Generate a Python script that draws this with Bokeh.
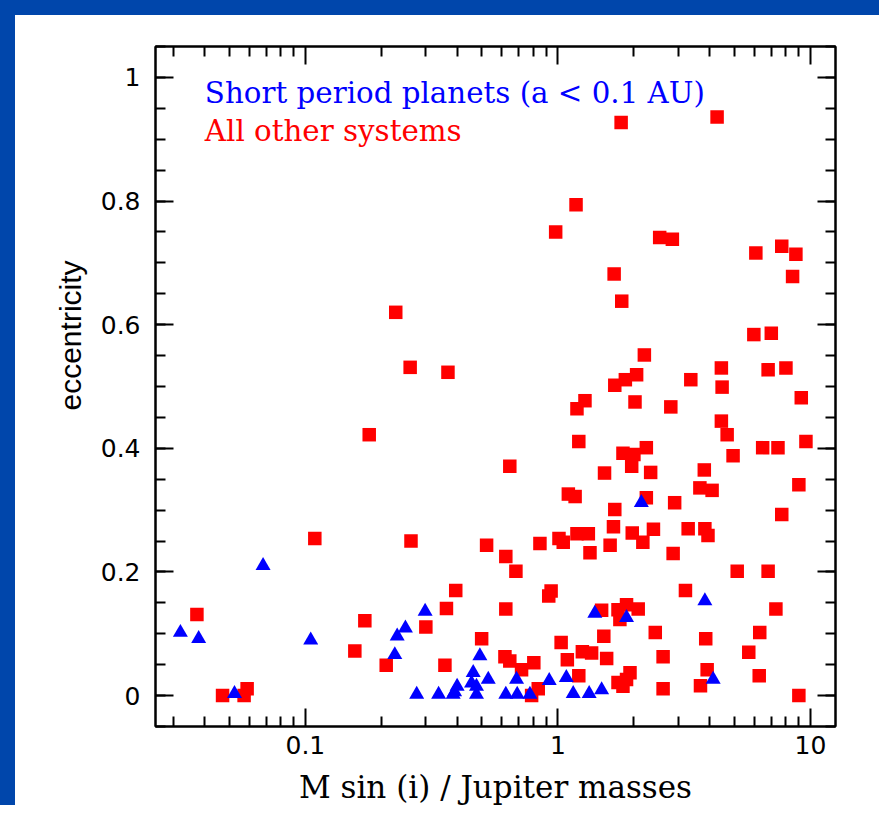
from bokeh.plotting import figure
from bokeh.models import Range1d, FixedTicker, LogAxis, LinearAxis, Label, Title
from bokeh.embed import file_html
from bokeh.resources import INLINE

# ---- data ----
red_x = [0.047, 0.0572, 0.0588, 0.0372, 0.109, 0.157, 0.172, 0.209, 0.262, 0.30,
         0.362, 0.357, 0.394, 0.228, 0.26, 0.367, 0.179,
         0.522, 0.622, 0.682, 0.622, 0.499, 0.617, 0.645, 0.718, 0.803, 0.849,
         1.01, 1.05, 1.34, 1.61, 2.17, 2.86, 5.13, 6.8, 3.2, 7.3, 6.3, 5.7, 6.27,
         9.0, 3.85, 3.9, 3.67, 2.61, 2.61, 2.43, 2.08, 1.87, 1.73, 1.76, 1.93,
         1.87, 1.73, 1.81, 1.49, 1.52, 1.56, 1.36, 1.25, 1.09, 1.03, 1.21, 0.94,
         0.92, 0.836, 0.787,
         0.645, 1.19, 1.32, 1.66, 1.68, 1.97, 2.39, 2.24, 2.9, 3.28, 3.82, 3.93,
         3.65, 4.08, 3.8, 4.94, 4.68, 4.44, 6.47, 7.44, 9.6, 9.0, 7.7, 2.33, 2.24,
         2.0, 1.81, 1.96, 1.53, 1.21, 1.19, 1.28, 1.68, 1.85, 2.05, 2.2, 2.02,
         2.80, 3.36, 4.44, 4.47, 6.8, 8.0, 9.2, 5.97, 7.0, 1.10, 1.17,
         1.78, 4.27, 1.18, 0.98, 2.53, 2.84, 6.08, 7.7, 8.76, 8.5, 1.67, 1.79]
red_y = [0.0, 0.0, 0.011, 0.131, 0.254, 0.072, 0.121, 0.049, 0.25, 0.111,
         0.141, 0.049, 0.170, 0.620, 0.531, 0.523, 0.422,
         0.243, 0.225, 0.201, 0.140, 0.092, 0.063, 0.056, 0.042, 0.053, 0.246,
         0.254, 0.248, 0.231, 0.243, 0.248, 0.230, 0.201, 0.201, 0.170, 0.140,
         0.102, 0.070, 0.032, 0.0, 0.092, 0.042, 0.016, 0.063, 0.011, 0.102,
         0.140, 0.147, 0.139, 0.123, 0.037, 0.026, 0.021, 0.015, 0.138, 0.096,
         0.060, 0.069, 0.071, 0.058, 0.086, 0.032, 0.169, 0.161, 0.011, 0.0,
         0.371, 0.262, 0.262, 0.273, 0.301, 0.263, 0.269, 0.320, 0.312, 0.270,
         0.270, 0.259, 0.336, 0.332, 0.365, 0.388, 0.422, 0.444, 0.401, 0.401,
         0.411, 0.341, 0.293, 0.361, 0.401, 0.390, 0.392, 0.371, 0.360, 0.411,
         0.464, 0.477, 0.502, 0.511, 0.519, 0.551, 0.475, 0.467, 0.511, 0.530,
         0.499, 0.527, 0.530, 0.482, 0.584, 0.586, 0.326, 0.322,
         0.927, 0.936, 0.794, 0.750, 0.741, 0.738, 0.716, 0.727, 0.714, 0.678,
         0.682, 0.638]

blue_x = [0.032, 0.0378, 0.0524, 0.068, 0.105, 0.226, 0.231, 0.249, 0.298, 0.276,
          0.337, 0.385, 0.399, 0.39, 0.462, 0.455, 0.476, 0.476, 0.491, 0.53,
          0.622, 0.69, 0.686, 0.775, 0.924, 1.08, 1.15, 1.33, 1.49, 1.40, 1.87,
          3.82, 4.12, 2.14]
blue_y = [0.102, 0.092, 0.003, 0.21, 0.0895, 0.066, 0.096, 0.109, 0.136, 0.002,
          0.002, 0.002, 0.015, 0.006, 0.037, 0.02, 0.002, 0.015, 0.064, 0.026,
          0.002, 0.002, 0.026, 0.002, 0.024, 0.029, 0.003, 0.003, 0.009, 0.133,
          0.126, 0.153, 0.026, 0.312]

x_major = [0.1, 1, 10]
x_major_labels = ["0.1", "1", "10"]
x_minor = [k * 10.0 ** d for d in (-2, -1, 0, 1) for k in range(2, 10)]
y_major = [0, 0.2, 0.4, 0.6, 0.8, 1.0]
y_major_labels = ["0", "0.2", "0.4", "0.6", "0.8", "1"]
y_minor = [i * 0.05 for i in range(-1, 22)]

x_title = "M sin (i) / Jupiter masses"
y_title = "eccentricity"
legend_short = "Short period planets (a < 0.1 AU)"
legend_other = "All other systems"

BLUE_FRAME = "#0046AB"

p = figure(width=879, height=805, x_axis_type="log",
           x_range=Range1d(0.0255, 12.57), y_range=Range1d(-0.05, 1.05),
           output_backend="svg", toolbar_location=None,
           min_border_left=140, min_border_right=59,
           min_border_top=31, min_border_bottom=94)
p.styles = {"border-top": f"15px solid {BLUE_FRAME}",
            "border-left": f"15px solid {BLUE_FRAME}"}
p.background_fill_color = "white"
p.border_fill_color = "white"
p.outline_line_color = "black"
p.outline_line_width = 2
p.grid.visible = False

xt = FixedTicker(ticks=x_major, minor_ticks=x_minor)
yt = FixedTicker(ticks=y_major, minor_ticks=y_minor)

p.add_layout(LogAxis(), "above")
p.add_layout(LinearAxis(), "right")


def style(ax, ticker, show):
    ax.ticker = ticker
    ax.major_tick_in = 18
    ax.major_tick_out = 0
    ax.minor_tick_in = 10
    ax.minor_tick_out = 0
    ax.axis_line_width = 2
    ax.axis_line_color = "black"
    ax.major_tick_line_width = 2
    ax.minor_tick_line_width = 2
    ax.major_tick_line_color = "black"
    ax.minor_tick_line_color = "black"
    ax.major_label_text_font = "DejaVu Sans"
    ax.major_label_text_font_size = "25px"
    ax.major_label_text_color = "black"
    if not show:
        ax.major_label_text_font_size = "0px"
        ax.major_label_text_color = None


style(p.below[0], xt, True)
style(p.above[0], xt, False)
style(p.left[0], yt, True)
style(p.right[0], yt, False)

p.below[0].major_label_overrides = {v: s for v, s in zip(x_major, x_major_labels)}
p.left[0].major_label_overrides = {v: s for v, s in zip(y_major, y_major_labels)}
p.below[0].major_label_standoff = 9
p.left[0].major_label_standoff = 15

p.below[0].axis_label = x_title
p.below[0].axis_label_text_font = "DejaVu Serif"
p.below[0].axis_label_text_font_size = "31px"
p.below[0].axis_label_text_font_style = "normal"
p.below[0].axis_label_text_color = "black"
p.below[0].axis_label_standoff = 12

# y title sits above the frame centre in the reference: a side title with an offset
p.add_layout(Title(text=y_title, align="left", offset=316,
                   text_font="Liberation Sans", text_font_size="30px",
                   text_font_style="normal", text_color="black", standoff=22), "left")

p.scatter(red_x, red_y, marker="square", size=13.5, fill_color="#FF0000", line_color=None)
p.scatter(blue_x, blue_y, marker="triangle", size=15, fill_color="#0000FF", line_color=None)

p.add_layout(Label(x=0.040, y=0.974, text=legend_short, text_color="#0000FF",
                   text_font="DejaVu Serif", text_font_size="29.3px",
                   text_baseline="middle", text_align="left"))
p.add_layout(Label(x=0.040, y=0.914, text=legend_other, text_color="#FF0000",
                   text_font="DejaVu Serif", text_font_size="29.3px",
                   text_baseline="middle", text_align="left"))

open("out.html", "w").write(file_html(p, INLINE))
